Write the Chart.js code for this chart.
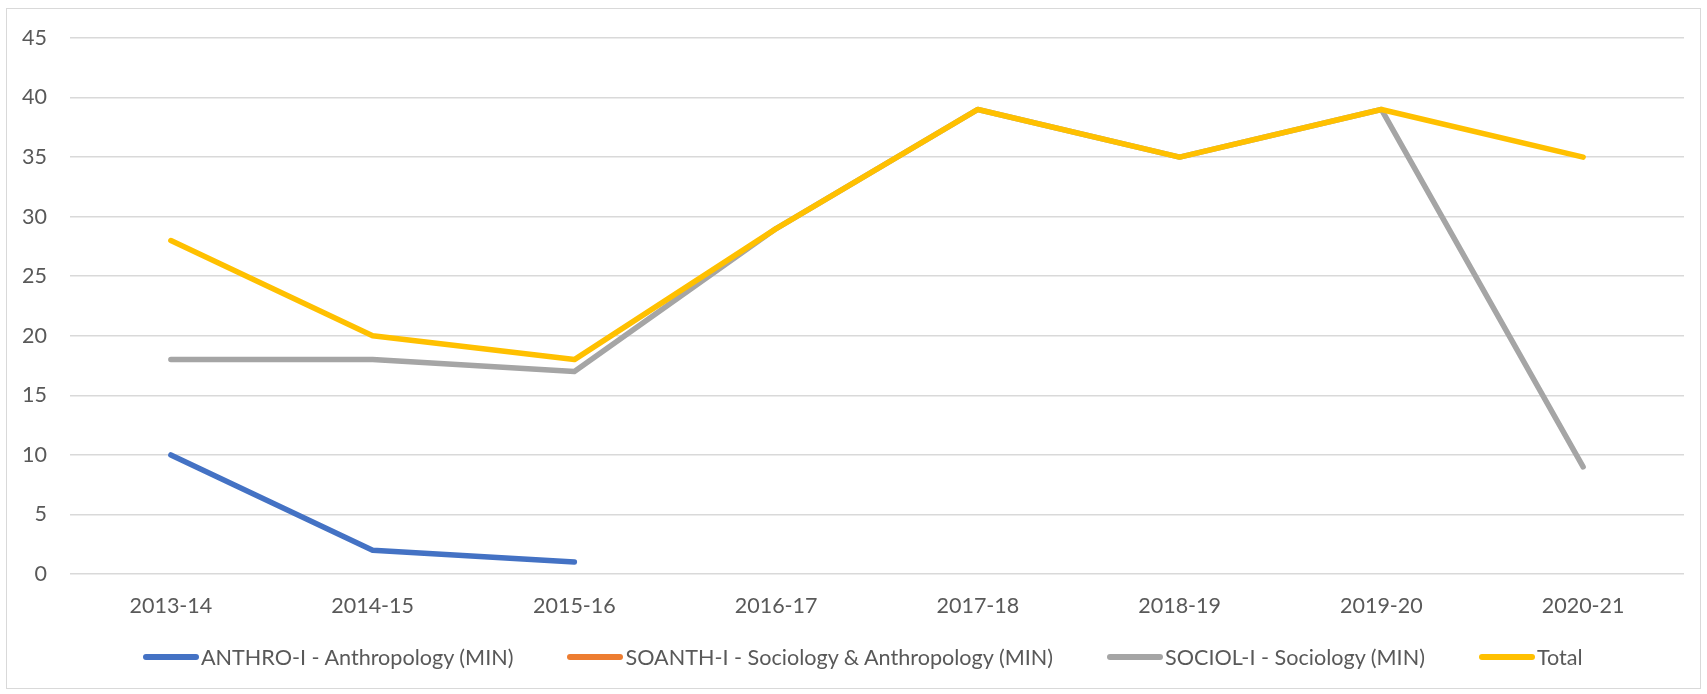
<!DOCTYPE html>
<html>
<head>
<meta charset="utf-8">
<script src="https://cdn.jsdelivr.net/npm/chart.js@4/dist/chart.umd.min.js"></script>
<style>
  html, body { margin: 0; padding: 0; background: #fff; }
  #frame {
    position: absolute; left: 6px; top: 8px; width: 1695px; height: 681px;
    border: 1.5px solid #d9d9d9; box-sizing: border-box;
  }
  #wrap { position: absolute; left: 0; top: 0; width: 1707px; height: 694px; }
  #legend {
    position: absolute; left: 143px; top: 643px; height: 28px;
    display: flex; align-items: center; white-space: nowrap;
    font: 21.6px Lato, "Open Sans", sans-serif; color: #595959;
  }
  #legend .item { display: flex; align-items: center; margin-right: 54px; }
  #legend .swatch { width: 56px; height: 6px; border-radius: 3px; margin-right: 2px; }
</style>
</head>
<body>
<div id="frame"></div>
<div id="wrap"><canvas id="chart" width="1707" height="694"></canvas></div>
<div id="legend"></div>
<script>
// 学年
const years = ["2013-14", "2014-15", "2015-16", "2016-17", "2017-18", "2018-19", "2019-20", "2020-21"];

// 各专业人数（无数据为 null）
const anthro = [10, 2, 1, null, null, null, null, null];
const soanth = [null, null, null, null, null, null, null, null];
const sociol = [18, 18, 17, 29, 39, 35, 39, 9];
const total = [28, 20, 18, 29, 39, 35, 39, 35];

const seriesNames = [
  "ANTHRO-I - Anthropology (MIN)",
  "SOANTH-I - Sociology & Anthropology (MIN)",
  "SOCIOL-I - Sociology (MIN)",
  "Total",
];

const COLORS = ["#4472C4", "#ED7D31", "#A5A5A5", "#FFC000"];
const FONT = "Lato, 'Open Sans', sans-serif";

/**
 * 折线数据集
 */
function lineSet(label, data, color, order) {
  return {
    label,
    data,
    borderColor: color,
    backgroundColor: color,
    borderWidth: 5.5,
    borderCapStyle: "round",
    borderJoinStyle: "round",
    pointRadius: 0,
    pointHoverRadius: 0,
    tension: 0,
    spanGaps: false,
    order,
  };
}

const chart = new Chart(document.getElementById("chart"), {
  type: "line",
  data: {
    labels: years,
    datasets: [
      lineSet(seriesNames[0], anthro, COLORS[0], 3),
      lineSet(seriesNames[1], soanth, COLORS[1], 2),
      lineSet(seriesNames[2], sociol, COLORS[2], 1),
      lineSet(seriesNames[3], total, COLORS[3], 0),
    ],
  },
  options: {
    responsive: false,
    animation: false,
    layout: { padding: { top: 38, right: 23, bottom: 75, left: 0 } },
    plugins: {
      tooltip: { enabled: false },
      legend: { display: false },
    },
    scales: {
      x: {
        offset: true,
        grid: { display: false, drawTicks: false },
        border: { display: false },
        ticks: { font: { family: FONT, size: 21.5 }, color: "#595959", padding: 19, maxRotation: 0 },
        afterFit(scale) { scale.height = 45; },
      },
      y: {
        min: 0,
        max: 45,
        ticks: { stepSize: 5, font: { family: FONT, size: 21.5 }, color: "#595959", padding: 23 },
        grid: { color: "#d9d9d9", lineWidth: 1.5, drawTicks: false },
        border: { display: false },
        afterFit(scale) { scale.width = 70; },
      },
    },
  },
});

// 图例（按数据集顺序）
document.getElementById("legend").innerHTML = chart.data.datasets
  .map(
    (ds) => `
    <span class="item">
      <span class="swatch" style="background:${ds.borderColor}"></span>
      <span>${ds.label.replace("&", "&amp;")}</span>
    </span>`
  )
  .join("");
</script>
</body>
</html>
